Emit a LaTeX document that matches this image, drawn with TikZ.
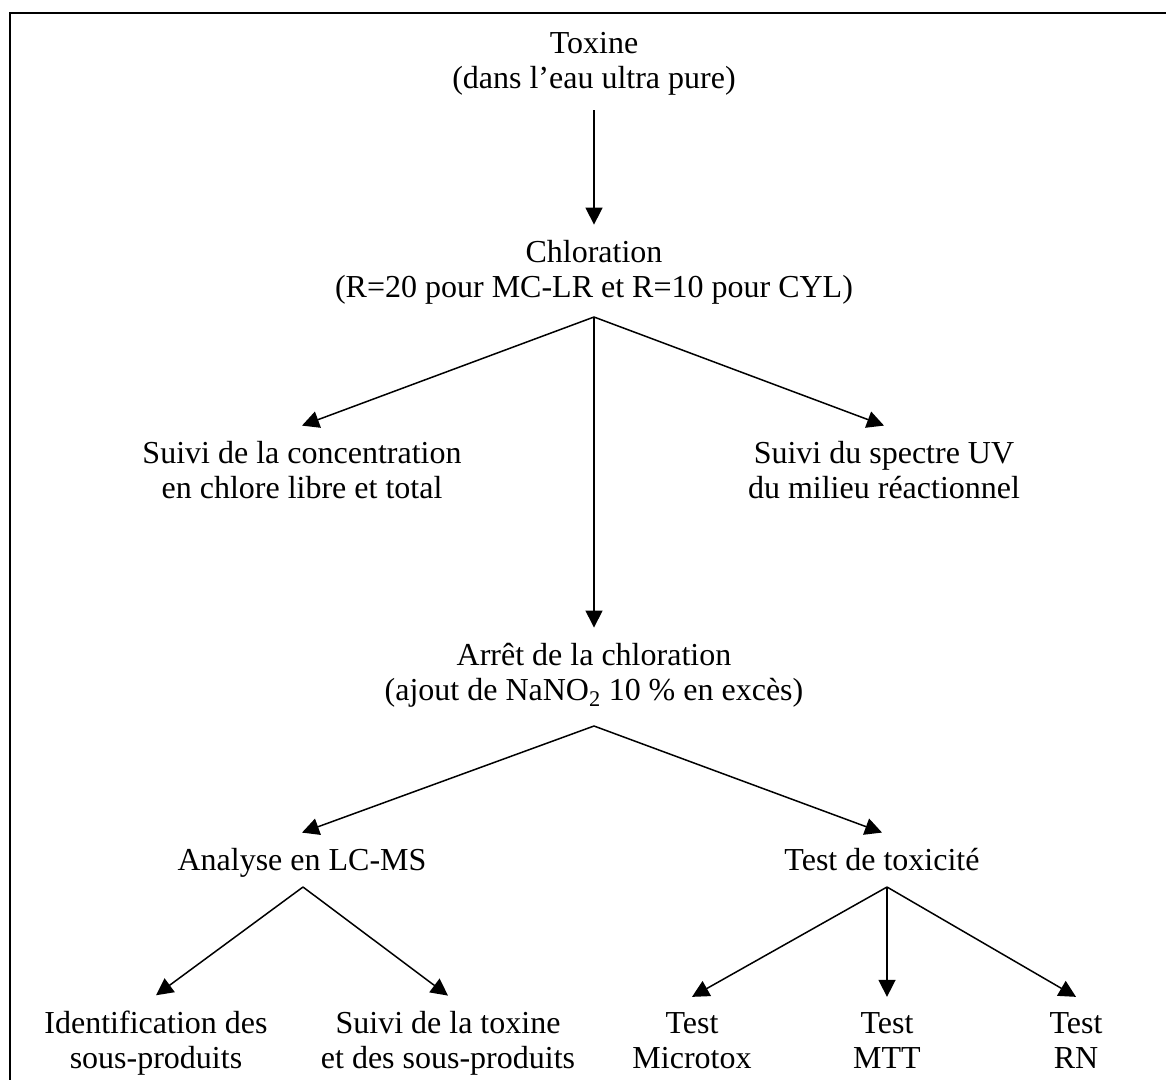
\documentclass[tikz,border=0pt]{standalone}
\usepackage{fontspec}
\setmainfont{Liberation Serif}
\usetikzlibrary{arrows.meta}

\tikzset{
  lbl/.style={align=center, anchor=base, inner xsep=0pt, inner ysep=15pt,
    font=\fontsize{32}{35}\selectfont},
  flow/.style={-{Triangle[length=17pt,width=17pt]}, line width=1.5pt},
}

\begin{document}
\begin{tikzpicture}[x=1pt, y=-1pt]
  \useasboundingbox (0,0) rectangle (1166,1079);
  \clip (0,0) rectangle (1166,1079);
  \draw[line width=2pt] (10,13) rectangle (1200,1120);

  % main chain (base = last line)
  \node[lbl] (toxine) at (594,88) {Toxine\\(dans l’eau ultra pure)};
  \node[lbl] (chlor) at (594,297) {Chloration\\(R=20 pour MC-LR et R=10 pour CYL)};
  \node[lbl] (chlore) at (302,498) {Suivi de la concentration\\en chlore libre et total};
  \node[lbl] (uv) at (884,498) {Suivi du spectre UV\\du milieu réactionnel};
  \node[lbl] (arret) at (594,700) {Arrêt de la chloration\\(ajout de NaNO\textsubscript{2} 10 \% en excès)};
  \node[lbl] (lcms) at (302,870) {Analyse en LC-MS};
  \node[lbl] (toxicite) at (882,870) {Test de toxicité};
  \node[lbl] (ident) at (156,1068) {Identification des\\sous-produits};
  \node[lbl] (suivitox) at (448,1068) {Suivi de la toxine\\et des sous-produits};
  \node[lbl] (microtox) at (692,1068) {Test\\Microtox};
  \node[lbl] (mtt) at (887,1068) {Test\\MTT};
  \node[lbl] (rn) at (1076,1068) {Test\\RN};

  % split points
  \coordinate (chlor-split) at (594,317);
  \coordinate (arret-split) at (594,726);
  \coordinate (lcms-split) at (303,887);
  \coordinate (tox-split) at (887,887);

  \draw[flow] (toxine) -- (chlor);
  \draw[flow] (chlor-split) -- (chlore.north);
  \draw[flow] (chlor-split) -- (uv.north);
  \draw[flow] (chlor-split) -- (arret.north);
  \draw[flow] (arret-split) -- (lcms.north);
  \draw[flow] (arret-split) -- (toxicite.north);
  \draw[flow] (lcms-split) -- (ident.north);
  \draw[flow] (lcms-split) -- (suivitox.north);
  \draw[flow] (tox-split) -- (microtox.north);
  \draw[flow] (tox-split) -- (mtt.north);
  \draw[flow] (tox-split) -- (rn.north);
\end{tikzpicture}
\end{document}
